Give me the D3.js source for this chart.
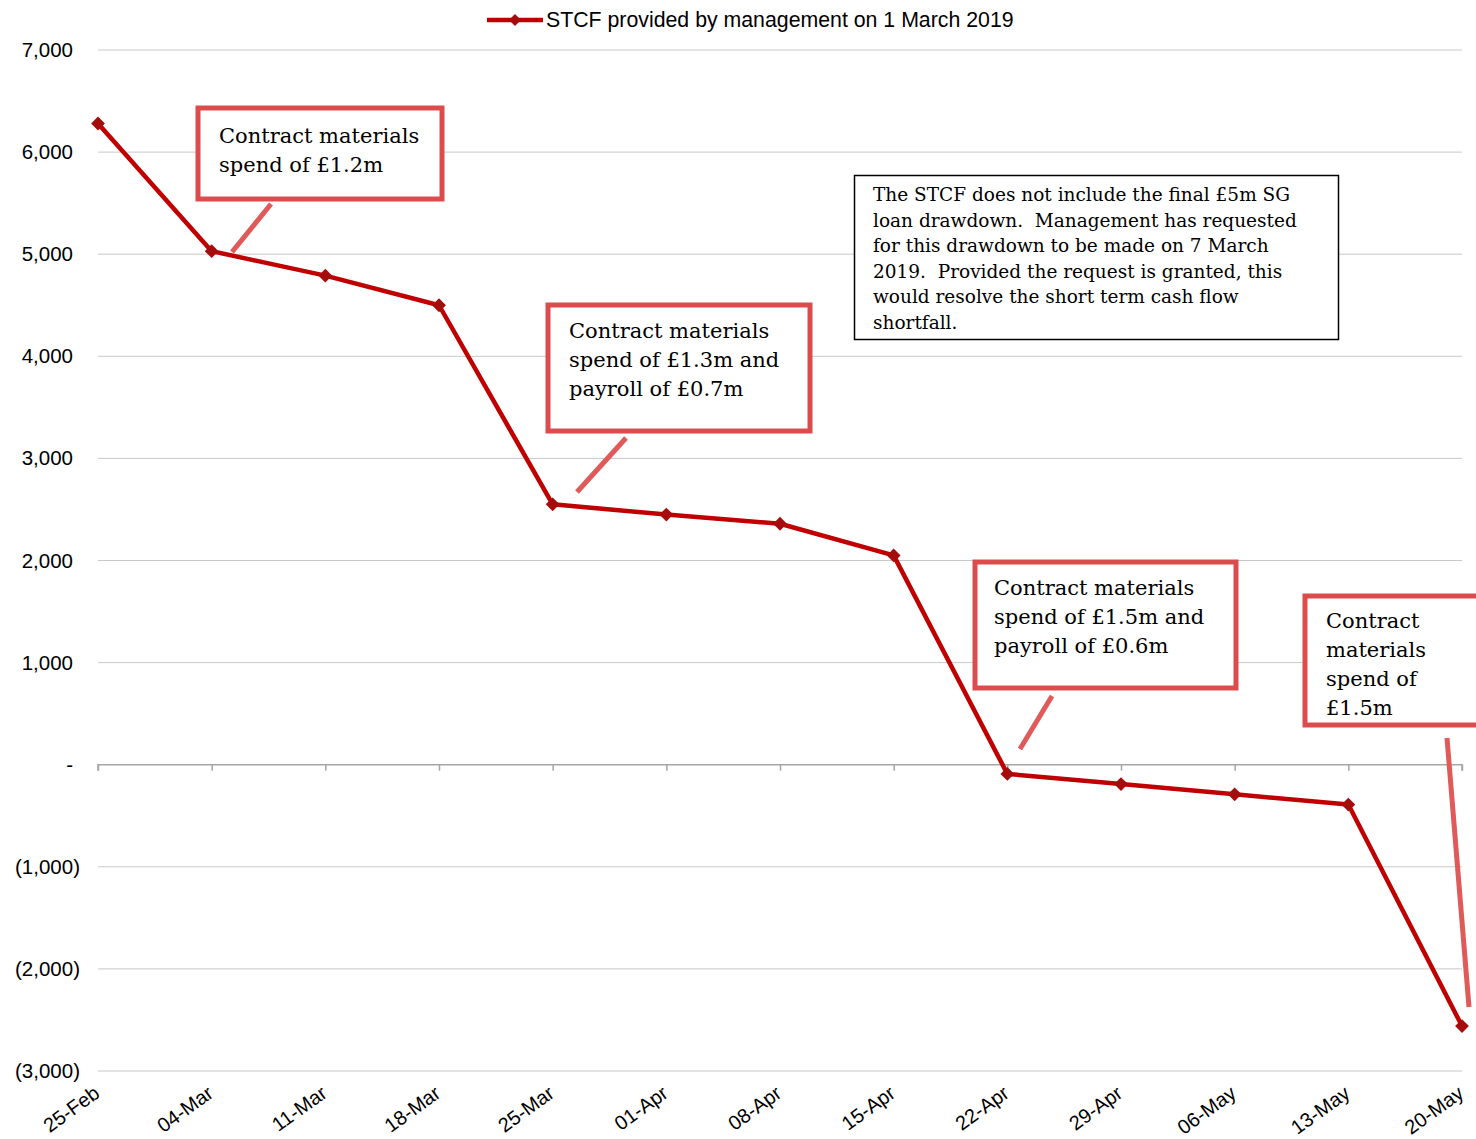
<!DOCTYPE html>
<html><head><meta charset="utf-8">
<script src="https://cdn.jsdelivr.net/npm/d3@7"></script>
<style>
body{margin:0;background:#fff;}
svg{display:block;}
</style></head>
<body>
<svg id="chart" width="1476" height="1139"></svg>
<script>
const categories = ["25-Feb","04-Mar","11-Mar","18-Mar","25-Mar","01-Apr","08-Apr","15-Apr","22-Apr","29-Apr","06-May","13-May","20-May"];
const stcfValues = [6280, 5030, 4790, 4500, 2550, 2450, 2360, 2050, -90, -190, -290, -390, -2560];
const yTicks = [7000, 6000, 5000, 4000, 3000, 2000, 1000, 0, -1000, -2000, -3000];
const seriesName = "STCF provided by management on 1 March 2019";
const callouts = [
  {lines:["Contract materials","spend of £1.2m"], box:[198,108,442,199], lead:[271,204,232,252], tx:219, ty:143},
  {lines:["Contract materials","spend of £1.3m and","payroll of £0.7m"], box:[548,305,810,431], lead:[626,438,577,492], tx:569, ty:338},
  {lines:["Contract materials","spend of £1.5m and","payroll of £0.6m"], box:[975,562,1236,688], lead:[1052,696,1020,749], tx:994, ty:595},
  {lines:["Contract","materials","spend of","£1.5m"], box:[1305,596,1482,725], lead:[1447,738,1469,1007], tx:1326, ty:628}
];
const noteLines = ["The STCF does not include the final £5m SG","loan drawdown.  Management has requested","for this drawdown to be made on 7 March","2019.  Provided the request is granted, this","would resolve the short term cash flow","shortfall."];

const svg = d3.select("#chart");
const x = d3.scalePoint().domain(categories).range([98, 1462]);
const y = d3.scaleLinear().domain([-3000, 7000]).range([1071, 50]);
const red = "#c00000";
const markerFill = "#a50d0d";
const sansFont = "Liberation Sans, Arial, sans-serif";

// gridlines
svg.append("g").selectAll("line").data(yTicks.filter(d=>d!==0)).join("line")
  .attr("x1", 98).attr("x2", 1462)
  .attr("y1", d=>y(d)).attr("y2", d=>y(d))
  .attr("stroke", "#c8c8c8").attr("stroke-width", 1);

// y labels
const fmt = d => d===0 ? "-" : (d<0 ? "(" + d3.format(",")(-d) + ")" : d3.format(",")(d));
svg.append("g").selectAll("text").data(yTicks).join("text")
  .attr("x", d => d<0 ? 80 : 73)
  .attr("y", d => y(d) + 7)
  .attr("text-anchor", "end")
  .attr("font-family", sansFont)
  .attr("font-size", 20.5).attr("fill", "#000")
  .text(fmt);

// zero axis
const xAxis = d3.axisBottom(x).tickSize(6).tickFormat("").tickSizeOuter(0);
const ax = svg.append("g").attr("transform", `translate(0,${y(0)})`).call(xAxis);
ax.select(".domain").attr("stroke", "#a6a6a6").attr("stroke-width", 1.5).attr("d", `M98,6V0H1462V6`);
ax.selectAll(".tick line").attr("stroke", "#a6a6a6").attr("stroke-width", 1.5);

// x labels
svg.append("g").selectAll("text").data(categories).join("text")
  .attr("transform", d => `translate(${x(d)+3},${1096}) rotate(-36)`)
  .attr("text-anchor", "end")
  .attr("font-family", sansFont)
  .attr("font-size", 20).attr("fill", "#000")
  .text(d=>d);

// line
const line = d3.line().x((d,i)=>x(categories[i])).y(d=>y(d));
svg.append("path").datum(stcfValues).attr("d", line)
  .attr("fill", "none").attr("stroke", red).attr("stroke-width", 4.5).attr("stroke-linejoin", "round");

svg.append("g").selectAll("path").data(stcfValues).join("path")
  .attr("transform", (d,i)=>`translate(${x(categories[i])},${y(d)}) rotate(45)`)
  .attr("d", d3.symbol().type(d3.symbolSquare).size(95))
  .attr("fill", markerFill);

// legend
const lg = svg.append("g");
lg.append("line").attr("x1", 487).attr("x2", 543).attr("y1", 20).attr("y2", 20).attr("stroke", red).attr("stroke-width", 4.5);
lg.append("path").attr("transform", "translate(515,20) rotate(45)").attr("d", d3.symbol().type(d3.symbolSquare).size(70)).attr("fill", markerFill);
lg.append("text").attr("x", 546).attr("y", 27).attr("font-family", sansFont).attr("font-size", 21.3).attr("fill","#000").text(seriesName);

// callouts
const boxRed = "#dc4c4c";
callouts.forEach(c => {
  const g = svg.append("g");
  g.append("rect").attr("x", c.box[0]).attr("y", c.box[1]).attr("width", c.box[2]-c.box[0]).attr("height", c.box[3]-c.box[1])
    .attr("fill", "#fff").attr("stroke", boxRed).attr("stroke-width", 5);
  g.append("line").attr("x1", c.lead[0]).attr("y1", c.lead[1]).attr("x2", c.lead[2]).attr("y2", c.lead[3])
    .attr("stroke", "#e05a5a").attr("stroke-width", 5);
  g.selectAll("text").data(c.lines).join("text")
    .attr("x", c.tx).attr("y", (d,i)=>c.ty + i*29)
    .attr("font-family", "DejaVu Serif, Georgia, serif").attr("font-size", 21).attr("fill", "#000")
    .text(d=>d);
});

// note box
const ng = svg.append("g");
ng.append("rect").attr("x", 854.5).attr("y", 175.5).attr("width", 484).attr("height", 164)
  .attr("fill", "#fff").attr("stroke", "#000").attr("stroke-width", 1.5);
ng.selectAll("text").data(noteLines).join("text")
  .attr("x", 873).attr("y", (d,i)=>201 + i*25.5)
  .attr("font-family", "DejaVu Serif, Georgia, serif").attr("font-size", 18.5).attr("fill", "#000")
  .attr("xml:space", "preserve").style("white-space", "pre")
  .text(d=>d);
</script>
</body></html>
